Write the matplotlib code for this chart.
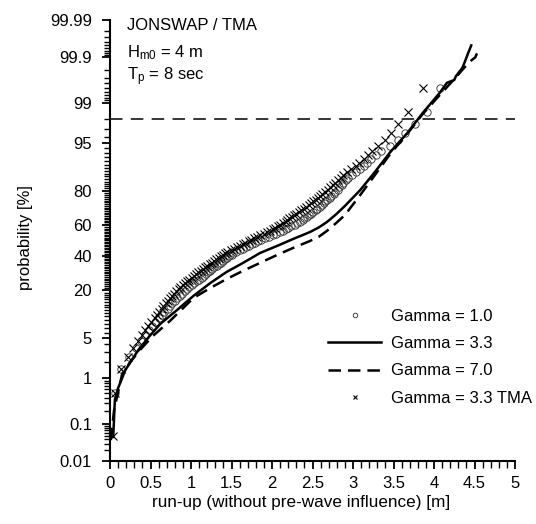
import numpy as np
import matplotlib
matplotlib.use("Agg")
import matplotlib.pyplot as plt
from statistics import NormalDist

# probability levels (%) of the marker series
prob_levels = [0.5, 1.5, 2.5, 3.5, 4.5, 5.5, 6.5, 7.5, 8.5, 9.5,
               10.5, 11.5, 12.5, 13.5, 14.5, 15.5, 16.5, 17.5, 18.5, 19.5,
               20.5, 21.5, 22.5, 23.5, 24.5, 25.5, 26.5, 27.5, 28.5, 29.5,
               30.5, 31.5, 32.5, 33.5, 34.5, 35.5, 36.5, 37.5, 38.5, 39.5,
               40.5, 41.5, 42.5, 43.5, 44.5, 45.5, 46.5, 47.5, 48.5, 49.5,
               50.5, 51.5, 52.5, 53.5, 54.5, 55.5, 56.5, 57.5, 58.5, 59.5,
               60.5, 61.5, 62.5, 63.5, 64.5, 65.5, 66.5, 67.5, 68.5, 69.5,
               70.5, 71.5, 72.5, 73.5, 74.5, 75.5, 76.5, 77.5, 78.5, 79.5,
               80.5, 81.5, 82.5, 83.5, 84.5, 85.5, 86.5, 87.5, 88.5, 89.5,
               90.5, 91.5, 92.5, 93.5, 94.5, 95.5, 96.5, 97.5, 98.5, 99.5]

# Gamma = 1.0 (circles), run-up in m
g10_x = [0.06, 0.14, 0.24, 0.32, 0.38, 0.43, 0.48, 0.52, 0.56, 0.60,
         0.64, 0.67, 0.71, 0.74, 0.77, 0.80, 0.83, 0.86, 0.89, 0.92,
         0.95, 0.98, 1.01, 1.04, 1.07, 1.10, 1.13, 1.16, 1.18, 1.21,
         1.23, 1.26, 1.29, 1.32, 1.34, 1.37, 1.40, 1.42, 1.45, 1.47,
         1.50, 1.52, 1.56, 1.60, 1.64, 1.68, 1.72, 1.75, 1.79, 1.83,
         1.87, 1.91, 1.96, 2.01, 2.05, 2.10, 2.14, 2.17, 2.20, 2.24,
         2.28, 2.31, 2.35, 2.38, 2.40, 2.43, 2.46, 2.48, 2.51, 2.54,
         2.56, 2.59, 2.62, 2.64, 2.66, 2.68, 2.71, 2.73, 2.76, 2.78,
         2.81, 2.83, 2.86, 2.88, 2.91, 2.94, 2.99, 3.04, 3.09, 3.13,
         3.17, 3.22, 3.29, 3.35, 3.46, 3.55, 3.64, 3.76, 3.91, 4.08]

# Gamma = 3.3 TMA (crosses), lowest point first
tma_p = [0.05] + prob_levels
tma_x = [0.04,
         0.06, 0.14, 0.22, 0.28, 0.34, 0.39, 0.43, 0.47, 0.51, 0.55,
         0.58, 0.61, 0.64, 0.66, 0.69, 0.72, 0.74, 0.77, 0.79, 0.82,
         0.85, 0.87, 0.90, 0.92, 0.95, 0.98, 1.01, 1.04, 1.06, 1.09,
         1.12, 1.15, 1.17, 1.20, 1.23, 1.26, 1.29, 1.31, 1.34, 1.37,
         1.39, 1.42, 1.45, 1.49, 1.53, 1.57, 1.60, 1.64, 1.67, 1.71,
         1.74, 1.78, 1.82, 1.85, 1.90, 1.94, 1.98, 2.01, 2.04, 2.07,
         2.10, 2.14, 2.17, 2.19, 2.21, 2.25, 2.27, 2.30, 2.33, 2.36,
         2.39, 2.42, 2.46, 2.48, 2.51, 2.54, 2.57, 2.59, 2.62, 2.65,
         2.69, 2.72, 2.75, 2.78, 2.81, 2.85, 2.88, 2.93, 2.98, 3.04,
         3.08, 3.13, 3.18, 3.24, 3.31, 3.39, 3.47, 3.56, 3.68, 3.86]

# Gamma = 3.3 (solid line)
g33_x = [0.04, 0.06, 0.10, 0.19, 0.35, 0.49, 0.62, 0.83, 1.03, 1.24, 1.44,
         1.64, 1.85, 2.06, 2.26, 2.47, 2.58, 2.68, 2.79, 2.90, 3.09, 3.27,
         3.46, 3.67, 3.86, 4.07, 4.16, 4.25, 4.27, 4.35, 4.38, 4.42, 4.46]
g33_p = [0.046, 0.36, 0.64, 1.45, 3.24, 5.37, 7.96, 12.1, 17.5, 23.7, 29.8,
         35.2, 41.6, 46.3, 51.0, 55.7, 58.8, 62.3, 67.0, 72.0, 80.3, 87.6,
         93.2, 96.5, 98.42, 99.36, 99.61, 99.66, 99.72, 99.82, 99.87, 99.92, 99.95]

# Gamma = 7.0 (dashed line)
g70_x = [0.01, 0.05, 0.10, 0.15, 0.25, 0.37, 0.53, 0.74, 1.03, 1.24, 1.44,
         1.64, 1.85, 2.06, 2.26, 2.47, 2.58, 2.68, 2.79, 2.90, 3.09, 3.27,
         3.46, 3.67, 3.86, 4.07, 4.26, 4.35, 4.41, 4.46, 4.51, 4.53]
g70_p = [0.038, 0.21, 0.53, 1.22, 2.02, 3.24, 5.37, 8.74, 16.6, 21.2, 25.8,
         30.4, 35.2, 40.3, 45.0, 49.7, 52.6, 56.5, 61.5, 66.6, 77.9, 86.5,
         92.8, 96.4, 98.35, 99.29, 99.69, 99.80, 99.85, 99.88, 99.90, 99.92]

ref_level = 98

y_major = [0.01, 0.1, 1, 5, 20, 40, 60, 80, 95, 99, 99.9, 99.99]
y_labels = ["0.01", "0.1", "1", "5", "20", "40", "60", "80", "95", "99", "99.9", "99.99"]
x_major = [0, 0.5, 1, 1.5, 2, 2.5, 3, 3.5, 4, 4.5, 5]
x_labels = ["0", "0.5", "1", "1.5", "2", "2.5", "3", "3.5", "4", "4.5", "5"]

# normal probability scale
_nd = NormalDist()
_ppf = np.vectorize(_nd.inv_cdf, otypes=[float])
_cdf = np.vectorize(_nd.cdf, otypes=[float])


def prob_fwd(p):
    q = np.clip(np.asarray(p, dtype=float) / 100.0, 1e-9, 1 - 1e-9)
    return _ppf(q)


def prob_inv(z):
    return _cdf(np.asarray(z, dtype=float)) * 100.0


plt.rcParams["font.family"] = ["Liberation Sans", "DejaVu Sans"]
plt.rcParams["font.size"] = 12
plt.rcParams["mathtext.fontset"] = "custom"
plt.rcParams["mathtext.rm"] = "Liberation Sans"
plt.rcParams["mathtext.it"] = "Liberation Sans:italic"
plt.rcParams["lines.scale_dashes"] = False

fig = plt.figure(figsize=(5.36, 5.24), dpi=100)
ax = fig.add_axes([110 / 536, 63 / 524, 405 / 536, 441 / 524])
ax.set_yscale("function", functions=(prob_fwd, prob_inv))

h10, = ax.plot(g10_x, prob_levels, "o", ms=5.3, mfc="none", mec="#383838", mew=0.65, zorder=2)
htma, = ax.plot(tma_x, tma_p, "x", ms=5.2, color="black", mew=0.8, zorder=2)
h33, = ax.plot(g33_x, g33_p, "-", color="black", lw=1.8, zorder=3)
h70, = ax.plot(g70_x, g70_p, color="black", lw=1.8, dashes=(9, 5), zorder=3)
ax.axhline(ref_level, color="black", lw=1.1, dashes=(9, 6), zorder=1)

ax.set_xlim(0, 5)
ax.set_ylim(0.01, 99.99)

minor_y = ([v / 100 for v in range(2, 10)] + [v / 10 for v in range(2, 10)]
           + [v for v in range(2, 99) if v not in y_major]
           + [99 + v / 10 for v in range(1, 9)] + [99.9 + v / 100 for v in range(1, 9)])
ax.set_yticks(y_major, labels=y_labels)
ax.set_yticks(minor_y, minor=True)
ax.set_xticks(x_major, labels=x_labels)
ax.set_xticks([v / 10 for v in range(0, 51)], minor=True)

ax.spines["top"].set_visible(False)
ax.spines["right"].set_visible(False)
ax.spines["left"].set_linewidth(1.5)
ax.spines["bottom"].set_linewidth(1.5)
ax.tick_params(axis="y", which="major", direction="out", length=6, width=1.3, pad=7, labelsize=12)
ax.tick_params(axis="y", which="minor", direction="out", length=4, width=1.0)
ax.tick_params(axis="x", which="major", direction="out", length=6, width=1.3, pad=4.5, labelsize=12)
ax.tick_params(axis="x", which="minor", direction="out", length=5, width=1.0)

ax.set_xlabel("run-up (without pre-wave influence) [m]", fontsize=12.3)
ax.xaxis.set_label_coords(0.473, -0.078)
ax.set_ylabel("probability [%]", fontsize=12)
ax.yaxis.set_label_coords(-0.19, 0.507)

fig.text(0.237, 0.9666, "JONSWAP / TMA", ha="left", va="top", fontsize=12)
fig.text(0.237, 0.917, r"H$_{\mathrm{m0}}$ = 4 m", ha="left", va="top", fontsize=12)
fig.text(0.237, 0.876, r"T$_{\mathrm{p}}$ = 8 sec", ha="left", va="top", fontsize=12)

ax.legend([h10, h33, h70, htma],
          ["Gamma = 1.0", "Gamma = 3.3", "Gamma = 7.0", "Gamma = 3.3 TMA"],
          loc="upper left", bbox_to_anchor=(0.612, 0.41), bbox_transform=fig.transFigure,
          frameon=False, borderpad=0, borderaxespad=0, handlelength=3.2,
          handletextpad=0.6, labelspacing=0.73, numpoints=1, markerscale=0.62,
          fontsize=12)

fig.savefig("out.png", dpi=100)
